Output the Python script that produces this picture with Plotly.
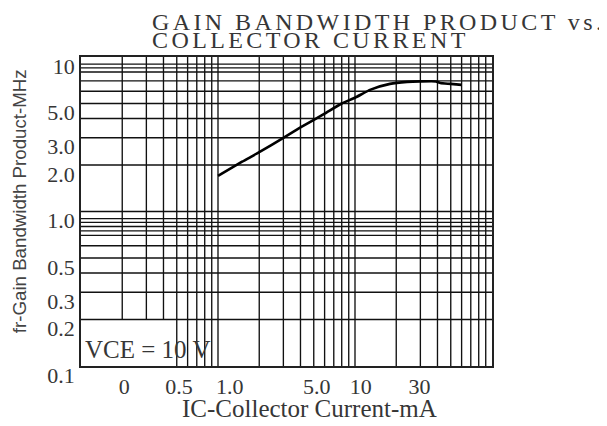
import math
import plotly.graph_objects as go

# ---- data ----
ic_ma = [1.0, 1.5, 2.0, 3.0, 4.0, 6.0, 8.0, 10.0, 13.0, 18.0, 24.0, 30.0, 39.0, 42.0, 50.0, 60.0]
ft_mhz = [1.7, 2.1, 2.42, 3.0, 3.5, 4.3, 5.0, 5.45, 6.15, 6.7, 6.9, 6.95, 6.95, 6.78, 6.7, 6.6]

x_tick_text = ["0", "0.5", "1.0", "5.0", "10", "30"]
x_tick_vals = [0.207, 0.52, 1.22, 5.26, 11.0, 29.6]
y_tick_text = ["0.1", "0.2", "0.3", "0.5", "1.0", "2.0", "3.0", "5.0", "10"]
y_tick_vals = [0.1, 0.2, 0.3, 0.5, 1.0, 2.0, 3.0, 5.0, 10.0]

grid_x = [0.2, 0.3, 0.4, 0.5, 0.6, 0.7, 0.8, 0.9,
          1, 2, 3, 4, 5, 6, 7, 8, 9,
          10, 20, 30, 40, 50, 60, 70, 80, 90]
grid_x_short = [0.2, 0.3, 0.4]          # these stop at the 0.2 MHz line
grid_y = [0.2, 0.3, 0.4, 0.5, 0.6, 0.7, 0.75, 0.8, 0.85, 0.9,
          1, 2, 3, 4, 5, 6, 7, 8, 8.5, 9]

X_MIN, X_MAX = 0.1, 100
Y_MIN, Y_MAX = 0.1, 10

TXT = "#363636"
SERIF = "Liberation Serif, Times New Roman, serif"

fig = go.Figure()

# grid lines
vx, vy = [], []
for gx in grid_x:
    y0 = 0.2 if gx in grid_x_short else Y_MIN
    vx += [gx, gx, None]
    vy += [y0, Y_MAX, None]
hx, hy = [], []
for gy in grid_y:
    hx += [X_MIN, X_MAX, None]
    hy += [gy, gy, None]
fig.add_trace(go.Scatter(x=vx, y=vy, mode="lines", line=dict(color="#111111", width=1.35),
                         hoverinfo="skip", showlegend=False))
fig.add_trace(go.Scatter(x=hx, y=hy, mode="lines", line=dict(color="#111111", width=1.35),
                         hoverinfo="skip", showlegend=False))

# curve
fig.add_trace(go.Scatter(x=ic_ma, y=ft_mhz, mode="lines",
                         line=dict(color="#000000", width=2.6, shape="spline", smoothing=0.5),
                         showlegend=False))

fig.update_xaxes(type="log", range=[math.log10(X_MIN), math.log10(X_MAX)],
                 showgrid=False, zeroline=False, showline=True, mirror=True,
                 linecolor="#222", linewidth=1.6, ticks="",
                 tickvals=x_tick_vals, ticktext=x_tick_text,
                 tickfont=dict(family=SERIF, size=22, color=TXT))
fig.update_yaxes(type="log", range=[math.log10(Y_MIN), math.log10(Y_MAX)],
                 showgrid=False, zeroline=False, showline=True, mirror=True,
                 linecolor="#222", linewidth=1.6, ticks="",
                 tickvals=y_tick_vals, ticktext=y_tick_text, ticklabelshift=9,
                 tickfont=dict(family=SERIF, size=22, color=TXT))

title_style = "letter-spacing:3.4px"
fig.add_annotation(text=f'<span style="{title_style}">GAIN BANDWIDTH PRODUCT vs.</span>',
                   xref="paper", yref="paper", x=0.1678, y=1.112,
                   xanchor="left", yanchor="middle", showarrow=False,
                   font=dict(family=SERIF, size=24, color=TXT))
fig.add_annotation(text=f'<span style="{title_style}">COLLECTOR CURRENT</span>',
                   xref="paper", yref="paper", x=0.1678, y=1.0534,
                   xanchor="left", yanchor="middle", showarrow=False,
                   font=dict(family=SERIF, size=24, color=TXT))
fig.add_annotation(text="IC-Collector Current-mA",
                   xref="paper", yref="paper", x=0.556, y=-0.136,
                   xanchor="center", yanchor="middle", showarrow=False,
                   font=dict(family=SERIF, size=25, color=TXT))
fig.add_annotation(text="fr-Gain Bandwidth Product-MHz", textangle=-90,
                   xref="paper", yref="paper", x=-0.148, y=0.534,
                   xanchor="center", yanchor="middle", showarrow=False,
                   font=dict(family="Liberation Sans, Arial, sans-serif", size=18.7, color="#444"))
fig.add_annotation(text="VCE = 10 V",
                   xref="paper", yref="paper", x=0.005, y=0.055,
                   xanchor="left", yanchor="middle", showarrow=False,
                   font=dict(family=SERIF, size=25, color=TXT))

# page has an 8 px body margin, so the figure is sized and offset to compensate
fig.update_layout(width=599, height=418,
                  margin=dict(l=73, r=115, t=49, b=60),
                  paper_bgcolor="white", plot_bgcolor="white")

fig.write_html("out.html")
